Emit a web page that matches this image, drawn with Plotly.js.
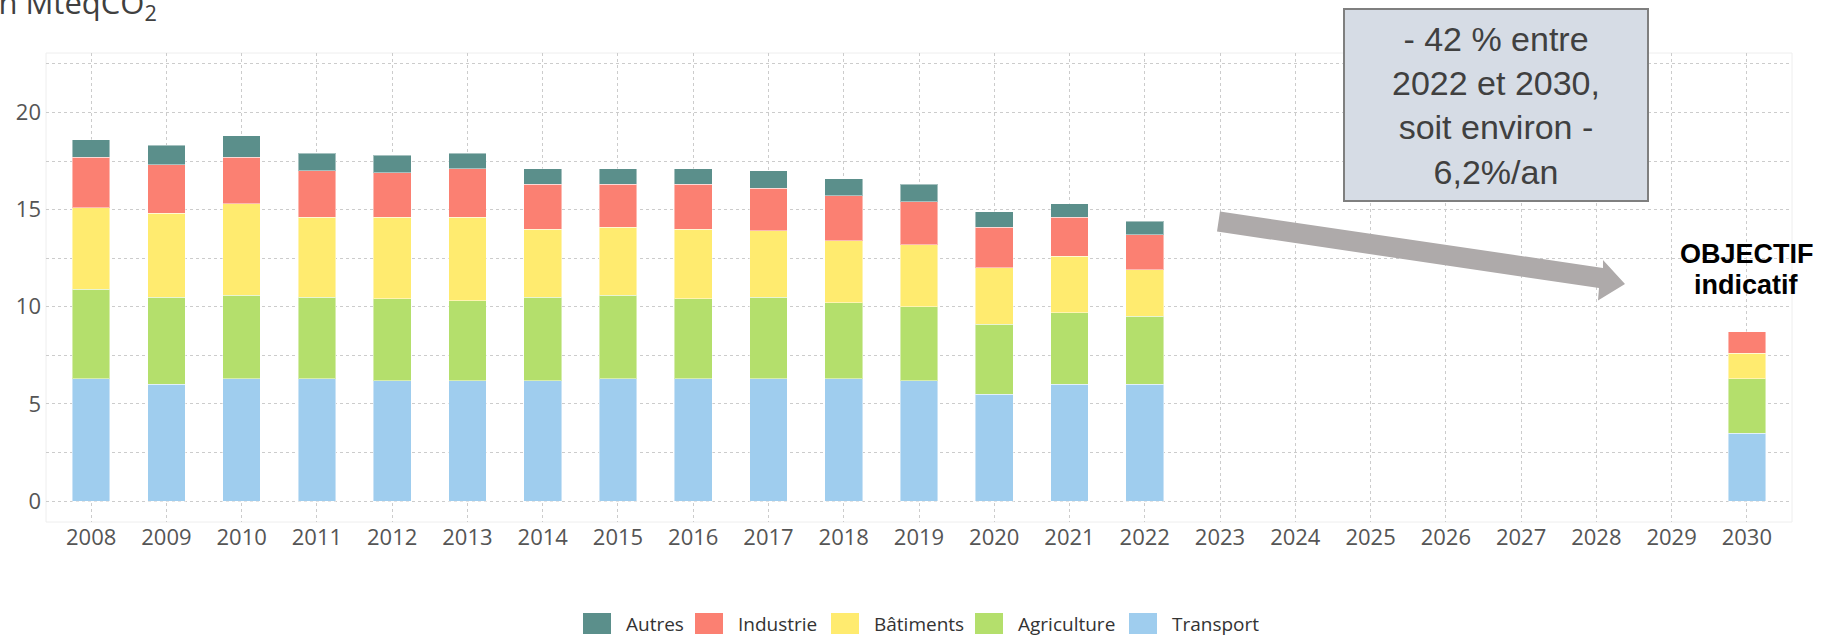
<!DOCTYPE html>
<html>
<head>
<meta charset="utf-8">
<script src="https://cdn.plot.ly/plotly-3.0.1.min.js"></script>
<style>html,body{margin:0;padding:0;background:#fff;}#chart{width:1824px;height:638px;}</style>
</head>
<body>
<div id="chart"></div>
<script>
// ---- Data (MteqCO2) ----
const years = ['2008','2009','2010','2011','2012','2013','2014','2015','2016','2017','2018','2019','2020','2021','2022','2023','2024','2025','2026','2027','2028','2029','2030'];
const transport   = [6.3,6.0,6.3,6.3,6.2,6.2,6.2,6.3,6.3,6.3,6.3,6.2,5.5,6.0,6.0,null,null,null,null,null,null,null,3.5];
const agriculture = [4.6,4.5,4.3,4.2,4.2,4.1,4.3,4.3,4.1,4.2,3.9,3.8,3.6,3.7,3.5,null,null,null,null,null,null,null,2.8];
const batiments   = [4.2,4.3,4.7,4.1,4.2,4.3,3.5,3.5,3.6,3.4,3.2,3.2,2.9,2.9,2.4,null,null,null,null,null,null,null,1.3];
const industrie   = [2.6,2.5,2.4,2.4,2.3,2.5,2.3,2.2,2.3,2.2,2.3,2.2,2.1,2.0,1.8,null,null,null,null,null,null,null,1.1];
const autres      = [0.9,1.0,1.1,0.9,0.9,0.8,0.8,0.8,0.8,0.9,0.9,0.9,0.8,0.7,0.7,null,null,null,null,null,null,null,null];
const seriesNames = ['Transport','Agriculture','Bâtiments','Industrie','Autres'];
const yTickVals = [0,2.5,5,7.5,10,12.5,15,17.5,20,22.5];
const yTickText = ['0','','5','','10','','15','','20',''];
const boxText = '- 42 % entre<br>2022 et 2030,<br>soit environ -<br>6,2%/an';
const objectifLines = ['OBJECTIF','indicatif'];
const objectifYear = '2030';
const yUnit = 'en MteqCO<sub>2</sub>';

// ---- Styles ----
const colors = ['#9fcdee','#b4df6c','#ffeb6f','#fb8072','#5b8f8b'];
const values = [transport, agriculture, batiments, industrie, autres];

const W = 1824, H = 638, L = 46, R = 32, T = 53, B = 116;
const PW = W - L - R, PH = H - T - B;
const px = x => (x - L) / PW;
const py = y => (H - B - y) / PH;

const traces = values.map((v, i) => ({
  type: 'bar', x: years, y: v, name: seriesNames[i],
  width: 0.5,
  marker: {color: colors[i], line: {color: 'rgba(255,255,255,0.45)', width: 1}},
  showlegend: false, hoverinfo: 'x+y+name'
}));

const shapes = [];
const annotations = [];

// plot frame (faint)
shapes.push({type:'rect', xref:'paper', yref:'paper', x0:0, x1:1, y0:0, y1:1,
  line:{color:'#eeeeee', width:1}, layer:'below'});

// arrow
const arrowPts = [[1220,211.5],[1603,268],[1603,260],[1625,284],[1598,300.5],[1599,288],[1217,231.5]];
shapes.push({type:'path', xref:'paper', yref:'paper', layer:'above',
  path: 'M' + arrowPts.map(p => px(p[0]).toFixed(5) + ',' + py(p[1]).toFixed(5)).join(' L') + ' Z',
  fillcolor:'#aeaaaa', line:{width:0}});

// text box
shapes.push({type:'rect', xref:'paper', yref:'paper', layer:'above',
  x0:px(1344), x1:px(1648), y0:py(201), y1:py(9),
  fillcolor:'#d6dce5', line:{color:'#7f7f7f', width:2}});
annotations.push({xref:'paper', yref:'paper', x:px(1496), y:py(106), xanchor:'center', yanchor:'middle',
  text: boxText, showarrow:false, align:'center',
  font:{family:'Liberation Sans, Arial, sans-serif', size:34, color:'#404040'}});

// OBJECTIF indicatif (centred above the 2030 bar)
const objIdx = years.indexOf(objectifYear);
annotations.push({xref:'x', yref:'paper', x:objIdx, y:py(254), xanchor:'center', yanchor:'middle',
  text:'<b>'+objectifLines[0]+'</b>', showarrow:false,
  font:{family:'Liberation Sans, Arial, sans-serif', size:27, color:'#000'}});
annotations.push({xref:'x', yref:'paper', x:objIdx, y:py(285), xanchor:'center', yanchor:'middle',
  text:'<b>'+objectifLines[1]+'</b>', showarrow:false,
  font:{family:'Liberation Sans, Arial, sans-serif', size:27, color:'#000'}});

// unit label (top-left, partly clipped as in the original)
annotations.push({xref:'paper', yref:'paper', x:px(159), y:py(4), xanchor:'right', yanchor:'middle',
  text: yUnit, showarrow:false,
  font:{family:'Open Sans, sans-serif', size:31, color:'#404040'}});

// custom legend (order: Autres, Industrie, Bâtiments, Agriculture, Transport)
const legendX = [583, 695, 831, 975, 1129];
for (let k = 0; k < 5; k++) {
  const i = 4 - k;
  shapes.push({type:'rect', xref:'paper', yref:'paper', x0:px(legendX[k]), x1:px(legendX[k]+28),
    y0:py(634), y1:py(613), fillcolor:colors[i], line:{width:0}});
  annotations.push({xref:'paper', yref:'paper', x:px(legendX[k]+41), y:py(623.5), xanchor:'left', yanchor:'middle',
    text: seriesNames[i], showarrow:false,
    font:{family:'Open Sans, sans-serif', size:19, color:'#333'}});
}

const layout = {
  width: W, height: H,
  margin: {l:L, r:R, t:T, b:B, pad:0},
  paper_bgcolor:'#fff', plot_bgcolor:'#fff',
  barmode:'stack', showlegend:false,
  font:{family:'Open Sans, sans-serif', color:'#555'},
  xaxis: {type:'category', range:[-0.6, 22.6], showgrid:true, gridcolor:'#cccccc', griddash:'dot', gridwidth:1,
    ticks:'', showline:false, zeroline:false, tickfont:{size:22, color:'#555'}, ticklabelstandoff:0, fixedrange:true},
  yaxis: {range:[-1.08, 23.06], tickmode:'array', tickvals:yTickVals, ticktext:yTickText,
    showgrid:true, gridcolor:'#cccccc', griddash:'dot', gridwidth:1, zeroline:false, ticks:'', showline:false,
    tickfont:{size:22, color:'#555'}, ticklabelstandoff:4, fixedrange:true},
  shapes: shapes, annotations: annotations
};

Plotly.newPlot('chart', traces, layout, {displayModeBar:false});
</script>
</body>
</html>
